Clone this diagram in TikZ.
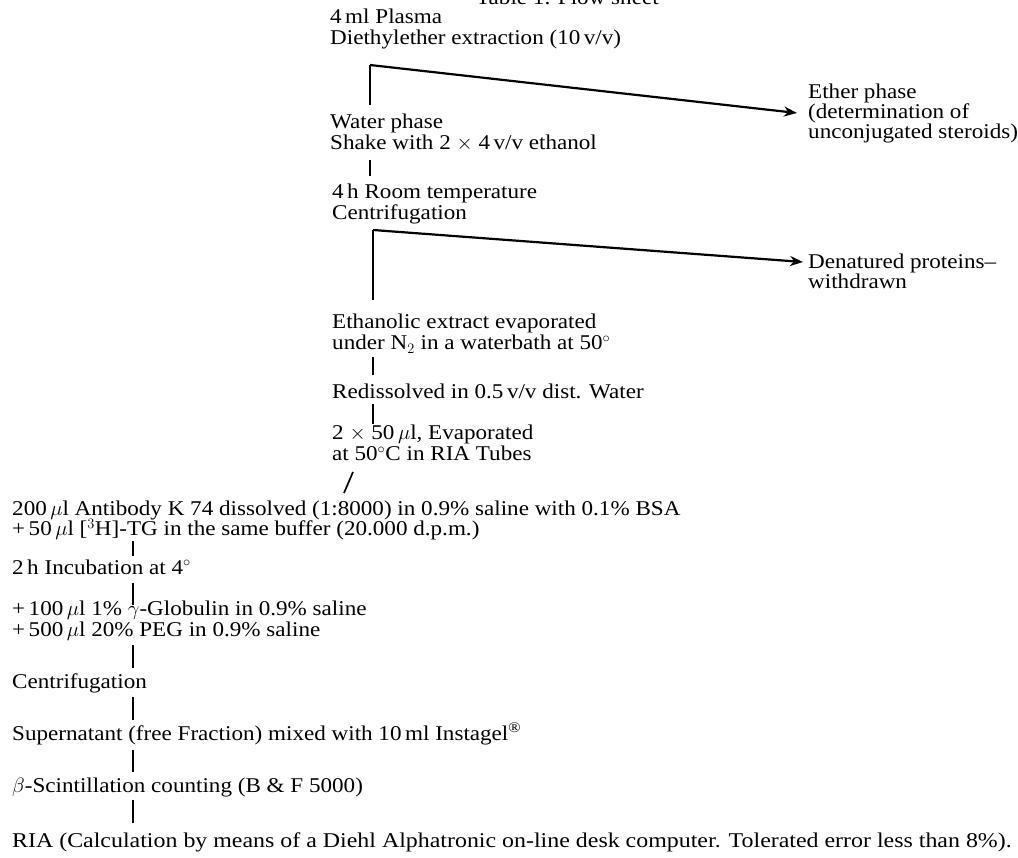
\documentclass[tikz,border=0pt]{standalone}
\usepackage{fontspec}
\usepackage{graphicx}
\setmainfont{Liberation Serif}[FakeStretch=1.10]
\usetikzlibrary{arrows.meta}
\begin{document}
\begin{tikzpicture}[x=1pt,y=-1pt,
  t/.style={anchor=base west,inner sep=0pt,font=\fontsize{21}{21}\selectfont},
  conn/.style={line width=1.7pt},
  branch/.style={line width=2.2pt,-{Stealth[length=13pt,width=10pt]}}]
\useasboundingbox (0,0) rectangle (1018,858);
% title (cut at top)
\node[t] (title) at (476,5) {Table 1. Flow sheet};
% upper column
\node[t] (s1a) at (330,24) {4\,ml Plasma};
\node[t] (s1b) at (330,45) {Diethylether extraction (10\,v/v)};
\node[t] (s2a) at (330,129) {Water phase};
\node[t] (s2b) at (330,150) {Shake with 2 $\times$ 4\,v/v ethanol};
\node[t] (s3a) at (332,199) {4\,h Room temperature};
\node[t] (s3b) at (332,220) {Centrifugation};
\node[t] (s4a) at (332,329) {Ethanolic extract evaporated};
\node[t] (s4b) at (332,350) {under N$_2$ in a waterbath at 50$^\circ$};
\node[t] (s5) at (332,399) {Redissolved in 0.5\,v/v dist. Water};
\node[t] (s6a) at (332,440) {2 $\times$ 50\,$\mu$l, Evaporated};
\node[t] (s6b) at (332,461) {at 50$^\circ$C in RIA Tubes};
% side outputs
\node[t] (e1) at (808,99) {Ether phase};
\node[t] (e2) at (808,119) {(determination of};
\node[t] (e3) at (808,139) {unconjugated steroids)};
\node[t] (d1) at (808,269) {Denatured proteins--};
\node[t] (d2) at (808,289) {withdrawn};
% lower column
\node[t] (b1a) at (12,515) {200\,$\mu$l Antibody K 74 dissolved (1:8000) in 0.9\% saline with 0.1\% BSA};
\node[t] (b1b) at (12,536) {+\,50\,$\mu$l [$^3$H]-TG in the same buffer (20.000 d.p.m.)};
\node[t] (b2) at (12,574) {2\,h Incubation at 4$^\circ$};
\node[t] (b3a) at (12,615) {+\,100\,$\mu$l 1\% $\gamma$-Globulin in 0.9\% saline};
\node[t] (b3b) at (12,636) {+\,500\,$\mu$l 20\% PEG in 0.9\% saline};
\node[t] (b4) at (12,688) {Centrifugation};
\node[t] (b5) at (12,740) {Supernatant (free Fraction) mixed with 10\,ml Instagel\textsuperscript{®}};
\node[t] (b6) at (12,792) {$\beta$-Scintillation counting (B \& F 5000)};
\node[t] (b7) at (12,847) {\scalebox{1.035}[1]{RIA (Calculation by means of a Diehl Alphatronic on-line desk computer. Tolerated error less than 8\%).}};
% connectors upper
\coordinate (k1) at ([shift={(40pt,-20pt)}]s1b.base west);
\draw[conn] (k1) -- ([shift={(40pt,24pt)}]s2a.base west);
\draw[branch] (k1) -- ([shift={(-11pt,6pt)}]e2.base west);
\draw[conn] ([shift={(40pt,-10pt)}]s2b.base west) -- ([shift={(38pt,23pt)}]s3a.base west);
\coordinate (k2) at ([shift={(41pt,-10pt)}]s3b.base west);
\draw[conn] (k2) -- ([shift={(41pt,29pt)}]s4a.base west);
\draw[branch] (k2) -- ([shift={(-5pt,7pt)}]d1.base west);
\draw[conn] ([shift={(41pt,-7pt)}]s4b.base west) -- ([shift={(41pt,24pt)}]s5.base west);
\draw[conn] ([shift={(41pt,-5pt)}]s5.base west) -- ([shift={(41pt,16pt)}]s6a.base west);
\draw[conn] ([shift={(21pt,-11pt)}]s6b.base west) -- ([shift={(332pt,22pt)}]b1a.base west);
% connectors lower
\draw[conn] ([shift={(121pt,-5pt)}]b1b.base west) -- ([shift={(121pt,18pt)}]b2.base west);
\draw[conn] ([shift={(121pt,-9pt)}]b2.base west) -- ([shift={(121pt,10pt)}]b3a.base west);
\draw[conn] ([shift={(121pt,-9pt)}]b3b.base west) -- ([shift={(121pt,20pt)}]b4.base west);
\draw[conn] ([shift={(121pt,-9pt)}]b4.base west) -- ([shift={(121pt,20pt)}]b5.base west);
\draw[conn] ([shift={(121pt,-10pt)}]b5.base west) -- ([shift={(121pt,20pt)}]b6.base west);
\draw[conn] ([shift={(121pt,-8pt)}]b6.base west) -- ([shift={(121pt,24pt)}]b7.base west);
\end{tikzpicture}
\end{document}
